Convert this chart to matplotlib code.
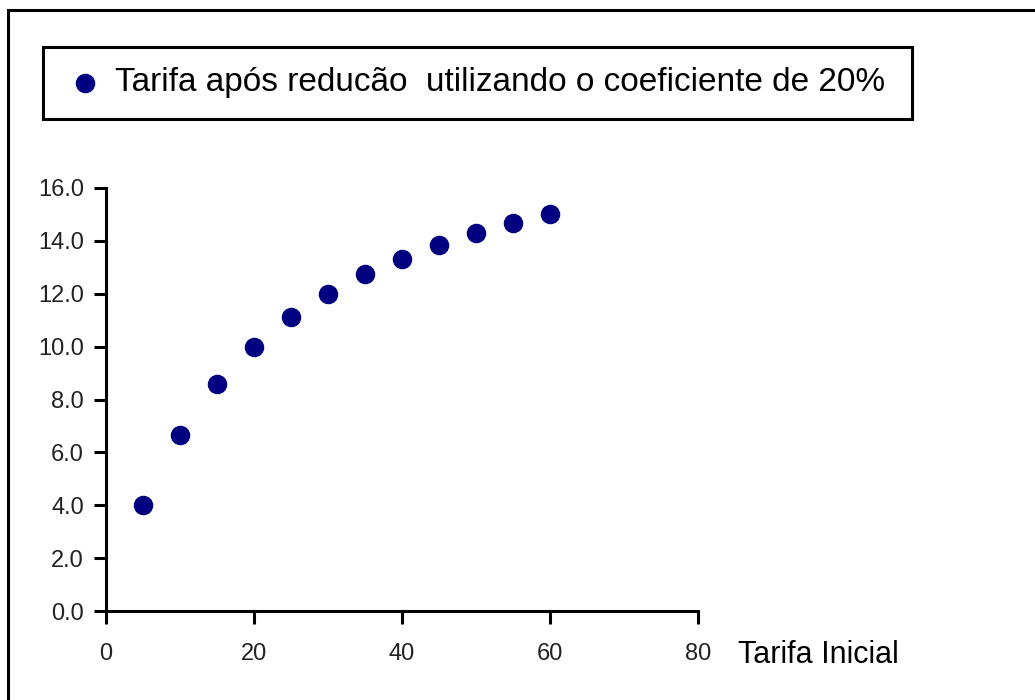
import matplotlib
matplotlib.use("Agg")
import matplotlib.pyplot as plt
from matplotlib.patches import Rectangle

# dados
tarifa_inicial = [5, 10, 15, 20, 25, 30, 35, 40, 45, 50, 55, 60]
tarifa_reduzida = [4.0, 6.67, 8.57, 10.0, 11.11, 12.0, 12.73, 13.33, 13.85, 14.29, 14.67, 15.0]
xticks = [0, 20, 40, 60, 80]
yticks = [0.0, 2.0, 4.0, 6.0, 8.0, 10.0, 12.0, 14.0, 16.0]
legenda = "Tarifa após reducão  utilizando o coeficiente de 20%"

plt.rcParams['font.family'] = ['Liberation Sans', 'DejaVu Sans']

W, H = 1035, 700
fig = plt.figure(figsize=(W / 100, H / 100), dpi=100)

# moldura externa
fig.patches.append(Rectangle((8 / W, -0.1), 1.2, 1 - 10 / H + 0.1,
                             transform=fig.transFigure, fill=False,
                             edgecolor='black', linewidth=2.2))

ax = fig.add_axes([106 / W, 1 - 611 / H, 592 / W, 423 / H])
ax.scatter(tarifa_inicial, tarifa_reduzida, s=170, color='#000080', zorder=3,
           label=legenda, clip_on=False)
ax.set_xlim(0, 80)
ax.set_ylim(0, 16)
ax.set_xticks(xticks)
ax.set_yticks(yticks)
ax.set_xticklabels([str(v) for v in xticks])
ax.set_yticklabels(["%.1f" % v for v in yticks])
for s in ['top', 'right']:
    ax.spines[s].set_visible(False)
for s in ['left', 'bottom']:
    ax.spines[s].set_linewidth(2.2)
ax.tick_params(direction='out', length=9, width=2.2, labelsize=17,
               labelcolor='#222222')
ax.tick_params(axis='x', pad=14)
ax.tick_params(axis='y', pad=7)

fig.text(738 / W, 1 - 655 / H, "Tarifa Inicial", fontsize=22,
         va='center', ha='left')

# caixa da legenda
fig.patches.append(Rectangle((43 / W, 1 - 119 / H), 869 / W, 72 / H,
                             transform=fig.transFigure, fill=False,
                             edgecolor='black', linewidth=2.2))
leg = fig.legend(loc='center left', bbox_to_anchor=(38 / W, 1 - 83 / H),
                 frameon=False, fontsize=24, handletextpad=0.4,
                 handlelength=1.0, markerscale=1.0)

fig.savefig("out.png", dpi=100)
